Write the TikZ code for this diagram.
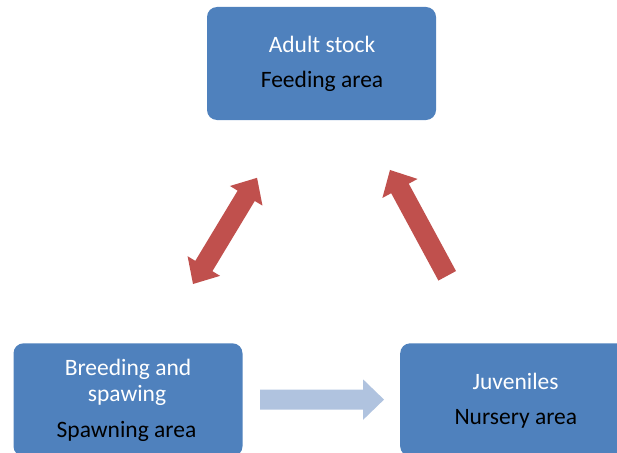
\documentclass[tikz,border=0pt]{standalone}
\usepackage{fontspec}
\setmainfont{Carlito}
\usetikzlibrary{calc}

\definecolor{boxblue}{HTML}{4F81BD}
\definecolor{arrowred}{HTML}{C0504D}
\definecolor{arrowlight}{HTML}{B0C3DF}

\tikzset{
  stagebox/.style={rectangle, rounded corners=10pt, fill=boxblue,
    minimum width=229pt, minimum height=113pt, inner sep=0pt},
  titletext/.style={anchor=base, text=white, font=\fontsize{23.5}{26}\selectfont, inner sep=0pt},
  areatext/.style={anchor=base, text=black, font=\fontsize{23.5}{26}\selectfont, inner sep=0pt},
  % block arrow pointing along +x, tail at the origin:
  % length, shaft half-width, head half-width, head length
  pics/blockarrow/.style n args={4}{code={
    \fill (0,-#2) -- ({#1-#4},-#2) -- ({#1-#4},-#3) -- (#1,0)
      -- ({#1-#4},#3) -- ({#1-#4},#2) -- (0,#2) -- cycle;
  }},
  % double-headed block arrow along +x, first tip at the origin
  pics/dblarrow/.style n args={4}{code={
    \fill (0,0) -- (#4,-#3) -- (#4,-#2) -- ({#1-#4},-#2) -- ({#1-#4},-#3)
      -- (#1,0) -- ({#1-#4},#3) -- ({#1-#4},#2) -- (#4,#2) -- (#4,#3) -- cycle;
  }},
}

\begin{document}
\begin{tikzpicture}[x=1pt, y=-1pt]
  \useasboundingbox (0,0) rectangle (617,452);

  % stage boxes
  \node[stagebox] (adult) at (321.5,63.5) {};
  \node[stagebox] (breed) at (128,399.8) {};
  \node[stagebox] (juv)   at (514.7,399.8) {};

  % labels
  \node[titletext] (adult-t) at (322,52.7)  {Adult stock};
  \node[areatext]  (adult-a) at (322,87.3)  {Feeding area};
  \node[titletext] (breed-t1) at (128,375)  {Breeding and};
  \node[titletext] (breed-t2) at (127,401)  {spawing};
  \node[areatext]  (breed-a)  at (126.5,437.3) {Spawning area};
  \node[titletext] (juv-t) at (515.6,389.3) {Juveniles};
  \node[areatext]  (juv-a) at (515.8,424.3) {Nursery area};

  % arrow anchors
  \coordinate (migr) at (193,284);
  \coordinate (recr) at (447.2,275.8);
  \coordinate (drift) at (260,399.6);

  % migration between spawning and feeding grounds
  \pic[fill=arrowred, rotate=58.9] at (migr) {dblarrow={124}{10}{19}{21}};
  % recruitment of juveniles to the adult stock
  \pic[fill=arrowred, rotate=118.4] at (recr) {blockarrow={120.3}{10}{20}{21}};
  % larval drift to the nursery area
  \pic[fill=arrowlight] at (drift) {blockarrow={124}{10}{20.3}{21}};
\end{tikzpicture}
\end{document}
